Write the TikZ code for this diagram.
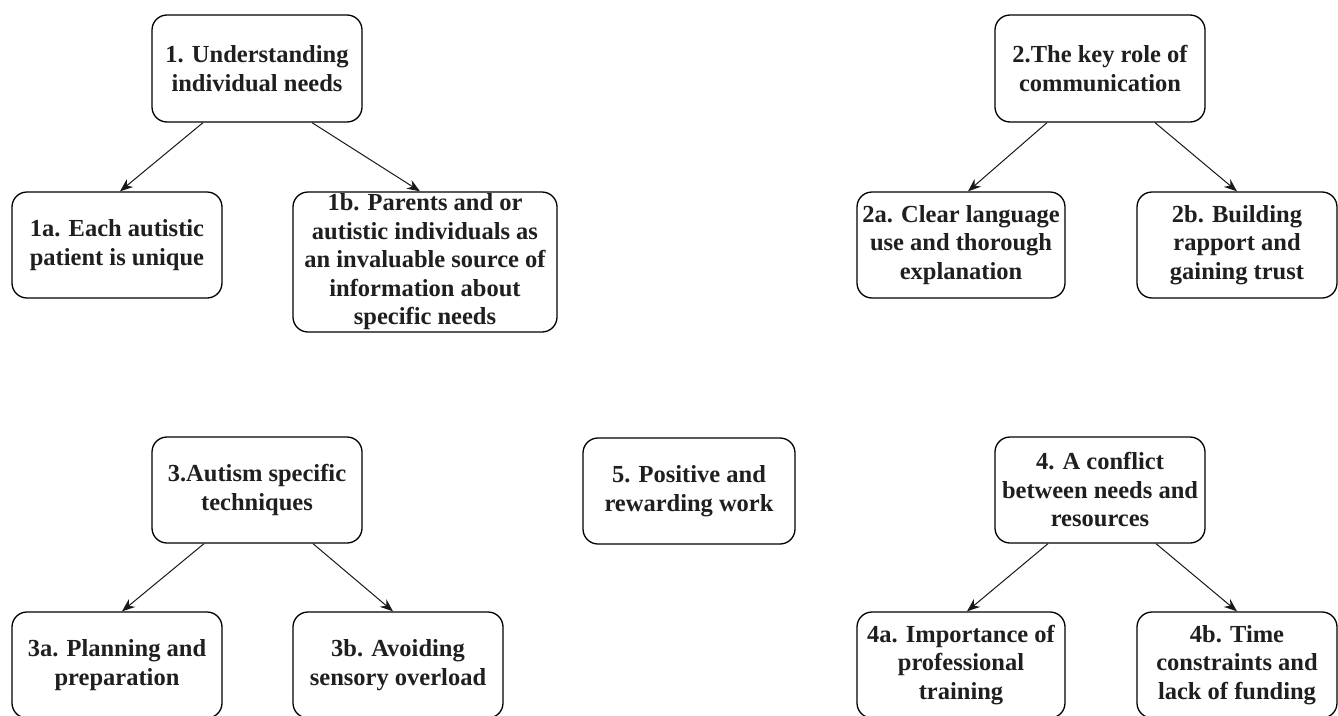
\documentclass[tikz,border=0pt]{standalone}
\usepackage{fontspec}
\setmainfont{Liberation Serif}
\usetikzlibrary{arrows.meta}
\begin{document}
\begin{tikzpicture}[x=1pt,y=1pt,
  box/.style={draw=black, line width=1.3pt, rounded corners=15pt, align=center,
    font=\fontsize{24.5}{28.5}\selectfont\bfseries, text=black!88, inner sep=0pt},
  arr/.style={-{Stealth[length=13pt,width=10pt]}, line width=1pt, draw=black!90}]
\useasboundingbox (0,0) rectangle (1338,-715);
\clip (0,0) rectangle (1338,-715);
\fill[white] (0,0) rectangle (1338,-715);

\node[box, minimum width=210pt, minimum height=107pt] (b1) at (257,-68.5) {1. Understanding\\individual needs};
\node[box, minimum width=210pt, minimum height=106pt] (b1a) at (117,-245) {1a. Each autistic\\patient is unique};
\node[box, minimum width=264pt, minimum height=140pt] (b1b) at (425,-262) {1b. Parents and or\\autistic individuals as\\an invaluable source of\\information about\\specific needs};

\node[box, minimum width=210pt, minimum height=107pt] (b2) at (1100,-68.5) {2.The key role of\\communication};
\node[box, minimum width=208pt, minimum height=106pt] (b2a) at (961,-245) {2a. Clear language\\use and thorough\\explanation};
\node[box, minimum width=200pt, minimum height=106pt] (b2b) at (1237,-245) {2b. Building\\rapport and\\gaining trust};

\node[box, minimum width=210pt, minimum height=106pt] (b3) at (257,-490) {3.Autism specific\\techniques};
\node[box, minimum width=212pt, minimum height=106pt] (b5) at (689,-491) {5. Positive and\\rewarding work};
\node[box, minimum width=210pt, minimum height=106pt] (b4) at (1100,-490) {4. A conflict\\between needs and\\resources};

\node[box, minimum width=210pt, minimum height=106pt] (b3a) at (117,-665) {3a. Planning and\\preparation};
\node[box, minimum width=210pt, minimum height=106pt] (b3b) at (398,-665) {3b. Avoiding\\sensory overload};
\node[box, minimum width=208pt, minimum height=106pt] (b4a) at (961,-665) {4a. Importance of\\professional\\training};
\node[box, minimum width=200pt, minimum height=106pt] (b4b) at (1237,-665) {4b. Time\\constraints and\\lack of funding};

\draw[arr] ([xshift=-54pt]b1.south) -- ([xshift=3pt]b1a.north);
\draw[arr] ([xshift=55pt]b1.south) -- ([xshift=-5pt]b1b.north);
\draw[arr] ([xshift=-53pt]b2.south) -- ([xshift=7pt]b2a.north);
\draw[arr] ([xshift=55pt]b2.south) -- ([xshift=0pt]b2b.north);
\draw[arr] ([xshift=-53pt]b3.south) -- ([xshift=5pt]b3a.north);
\draw[arr] ([xshift=56pt]b3.south) -- ([xshift=-5pt]b3b.north);
\draw[arr] ([xshift=-52pt]b4.south) -- ([xshift=6pt]b4a.north);
\draw[arr] ([xshift=56pt]b4.south) -- ([xshift=0pt]b4b.north);
\end{tikzpicture}
\end{document}
